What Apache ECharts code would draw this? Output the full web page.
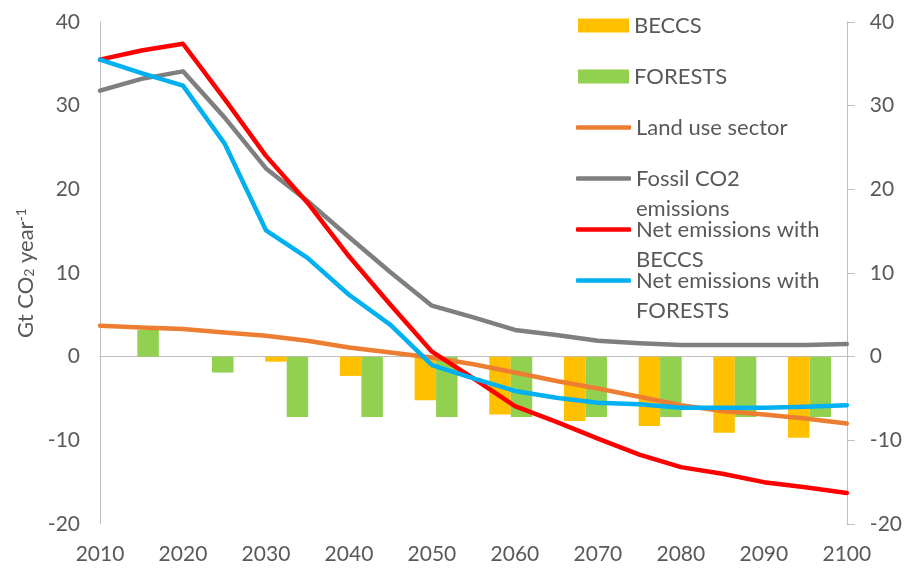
<!DOCTYPE html>
<html>
<head>
<meta charset="utf-8">
<script src="https://cdn.jsdelivr.net/npm/echarts@6/dist/echarts.min.js"></script>
<style>
  html, body { margin: 0; padding: 0; background: #fff; }
  #chart { width: 905px; height: 568px; }
</style>
</head>
<body>
<div id="chart"></div>
<script>
// Emission pathways, Gt CO2 per year
const years = [2010, 2015, 2020, 2025, 2030, 2035, 2040, 2045, 2050, 2055,
               2060, 2065, 2070, 2075, 2080, 2085, 2090, 2095, 2100];
const landUse = [3.7, 3.5, 3.3, 2.9, 2.5, 1.9, 1.1, 0.5, -0.1, -0.9,
                 -1.9, -2.9, -3.8, -4.8, -5.8, -6.5, -6.9, -7.4, -8.0];
const fossilCO2 = [31.8, 33.2, 34.1, 28.6, 22.5, 18.6, 14.3, 10.1, 6.1, 4.7,
                   3.2, 2.6, 1.9, 1.6, 1.4, 1.4, 1.4, 1.4, 1.5];
const netBECCS = [35.5, 36.6, 37.4, 30.8, 24.0, 18.4, 12.0, 6.2, 0.6, -2.6,
                  -5.9, -7.8, -9.8, -11.7, -13.2, -14.0, -15.0, -15.6, -16.3];
const netForests = [35.5, 33.9, 32.4, 25.5, 15.1, 11.8, 7.4, 3.8, -1.0, -2.6,
                    -4.1, -4.9, -5.5, -5.7, -6.1, -6.1, -6.1, -6.0, -5.8];

// Decadal removals shown as bars
const barCategories = ['2010', '2020', '2030', '2040', '2050', '2060', '2070', '2080', '2090', '2100'];
const beccs = [0, 0, -0.6, -2.3, -5.2, -6.9, -7.7, -8.3, -9.1, -9.7];
const forests = [3.2, -1.9, -7.2, -7.2, -7.2, -7.2, -7.2, -7.2, -7.2, -7.2];

// Axis ticks
const yMin = -20, yMax = 40, yStep = 10;
const xMin = 2010, xMax = 2100, xStep = 10;

const FONT = 'Lato';
const TEXT = '#595959';
const AXIS = '#BFBFBF';

const pairs = arr => years.map((y, i) => [y, arr[i]]);

const lineSeries = (name, data, color) => ({
  name, type: 'line', data: pairs(data),
  xAxisIndex: 0, yAxisIndex: 0,
  symbol: 'none', smooth: false,
  lineStyle: { color, width: 4.5, cap: 'round', join: 'round' },
  itemStyle: { color },
  z: 3
});

// Legend entries: one block per item so rows keep a fixed pitch
const legendItems = [
  { name: 'BECCS', bar: true },
  { name: 'FORESTS', bar: true },
  { name: 'Land use sector' },
  { name: 'Fossil CO2 emissions', lines: ['Fossil CO2', 'emissions'] },
  { name: 'Net emissions with BECCS', lines: ['Net emissions with', 'BECCS'] },
  { name: 'Net emissions with FORESTS', lines: ['Net emissions with', 'FORESTS'] }
];
const rowPitch = 51, firstRow = 25.5, lineH = 30;
const legends = legendItems.map((it, i) => {
  const centre = firstRow + i * rowPitch;
  const twoLine = !!it.lines;
  // a blank leading line keeps the first text line level with the key
  const label = twoLine ? '\u00a0\n' + it.lines.join('\n') : it.name;
  return {
    data: [{ name: it.name, icon: it.bar ? 'rect' : 'roundRect' }],
    orient: 'vertical',
    left: it.bar ? 578 : 576,
    top: twoLine ? centre - 1.5 * lineH : centre - lineH / 2,
    padding: 0,
    itemWidth: it.bar ? 51 : 55,
    itemHeight: it.bar ? 14 : 4.5,
    formatter: () => label,
    textStyle: { fontFamily: FONT, fontSize: 22, color: TEXT, lineHeight: lineH }
  };
});

const option = {
  animation: false,
  backgroundColor: '#fff',
  textStyle: { fontFamily: FONT },
  grid: { left: 100, right: 56, top: 22, bottom: 44, containLabel: false },
  legend: legends,
  xAxis: [
    {
      type: 'value', min: xMin, max: xMax, interval: xStep,
      position: 'bottom',
      axisLine: { show: false, onZero: false },
      axisTick: { show: false },
      splitLine: { show: false },
      axisLabel: {
        fontFamily: FONT, fontSize: 21, color: TEXT, margin: 20,
        formatter: v => String(v)
      }
    },
    {
      type: 'category', data: barCategories,
      position: 'bottom',
      axisLine: { show: true, onZero: true, lineStyle: { color: AXIS, width: 1 } },
      axisTick: { show: false },
      axisLabel: { show: false },
      splitLine: { show: false }
    }
  ],
  yAxis: [
    {
      type: 'value', min: yMin, max: yMax, interval: yStep,
      position: 'left',
      axisLine: { show: true, lineStyle: { color: AXIS, width: 1 } },
      axisTick: { show: false },
      splitLine: { show: false },
      axisLabel: { fontFamily: FONT, fontSize: 21, color: TEXT, margin: 20 },
      name: '{n|Gt CO}{sub|2}{n| year}{sup|-1}',
      nameLocation: 'middle',
      nameRotate: 90,
      nameGap: 59,
      nameTextStyle: {
        fontFamily: FONT, fontSize: 22, color: TEXT,
        rich: {
          n: { fontFamily: FONT, fontSize: 22, color: TEXT },
          sub: { fontFamily: FONT, fontSize: 14, color: TEXT, verticalAlign: 'bottom' },
          sup: { fontFamily: FONT, fontSize: 14, color: TEXT, verticalAlign: 'top' }
        }
      }
    },
    {
      type: 'value', min: yMin, max: yMax, interval: yStep,
      position: 'right',
      axisLine: { show: true, lineStyle: { color: AXIS, width: 1 } },
      axisTick: { show: true, length: 8, lineStyle: { color: AXIS, width: 1 } },
      splitLine: { show: false },
      axisLabel: { fontFamily: FONT, fontSize: 21, color: TEXT, margin: 23 }
    }
  ],
  series: [
    {
      name: 'BECCS', type: 'bar', data: beccs,
      xAxisIndex: 1, yAxisIndex: 0,
      barWidth: 21.5, barGap: '0%',
      itemStyle: { color: '#FFC000' }, z: 2
    },
    {
      name: 'FORESTS', type: 'bar', data: forests,
      xAxisIndex: 1, yAxisIndex: 0,
      barWidth: 21.5, barGap: '0%',
      itemStyle: { color: '#92D050' }, z: 2
    },
    lineSeries('Land use sector', landUse, '#ED7D31'),
    lineSeries('Fossil CO2 emissions', fossilCO2, '#7F7F7F'),
    lineSeries('Net emissions with BECCS', netBECCS, '#FF0000'),
    lineSeries('Net emissions with FORESTS', netForests, '#00B0F0')
  ]
};

const chart = echarts.init(document.getElementById('chart'), null, { renderer: 'canvas' });
chart.setOption(option);
</script>
</body>
</html>
